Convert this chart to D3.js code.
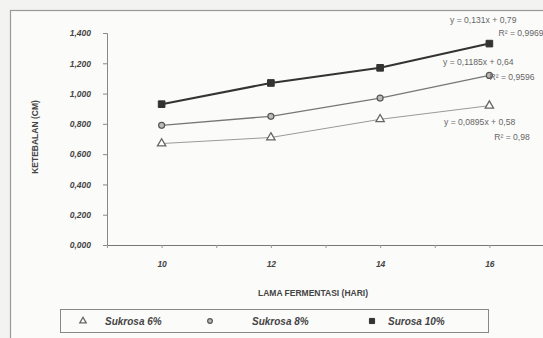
<!DOCTYPE html>
<html>
<head>
<meta charset="utf-8">
<script src="https://cdn.jsdelivr.net/npm/d3@7/dist/d3.min.js"></script>
<style>
  html, body { margin: 0; padding: 0; background: #f3f3f1; }
  svg { display: block; }
  text { font-family: Arial, "Liberation Sans", sans-serif; }
</style>
</head>
<body>
<svg id="chart" width="543" height="338"></svg>
<script>
// Fermentation time (days)
const days = [10, 12, 14, 16];
// Thickness (cm) for each sucrose level
const sukrosa6 = [0.67, 0.71, 0.83, 0.92];
const sukrosa8 = [0.79, 0.85, 0.97, 1.12];
const surosa10 = [0.93, 1.07, 1.17, 1.33];
const seriesNames = ["Sukrosa 6%", "Sukrosa 8%", "Surosa 10%"];
const yTicks = [0, 0.2, 0.4, 0.6, 0.8, 1.0, 1.2, 1.4];
const xLabelTicks = [10, 12, 14, 16];
const trendLabels = [
  ["y = 0,0895x + 0,58", "R² = 0,98"],
  ["y = 0,1185x + 0,64", "R² = 0,9596"],
  ["y = 0,131x + 0,79", "R² = 0,9969"]
];

const svg = d3.select("#chart");
const yFmt = v => (v >= 1 ? "1," + d3.format("03d")(Math.round((v - 1) * 1000)) : "0," + d3.format("03d")(Math.round(v * 1000)));

const x = d3.scaleLinear().domain([9, 17]).range([107, 544]);
const y = d3.scaleLinear().domain([0, 1.4]).range([245, 33]);

// outer frame
svg.append("rect").attr("x", 10.5).attr("y", 10.5).attr("width", 545).attr("height", 340)
  .attr("fill", "#fbfbfa").attr("stroke", "#9a9a9a").attr("stroke-width", 1.2);

// y axis
const yAxis = svg.append("g").attr("transform", "translate(107,0)")
  .call(d3.axisLeft(y).tickValues(yTicks).tickSize(4).tickFormat(yFmt));
yAxis.select(".domain").attr("stroke", "#888");
yAxis.selectAll(".tick line").attr("stroke", "#888");
yAxis.selectAll(".tick text").attr("x", -16)
  .attr("font-size", 8.5).attr("font-weight", "bold").attr("font-style", "italic").attr("fill", "#444");

// x axis
const xAxis = svg.append("g").attr("transform", "translate(0,245)")
  .call(d3.axisBottom(x).tickValues(d3.range(9, 18)).tickSize(3)
    .tickFormat(d => xLabelTicks.includes(d) ? d : ""));
xAxis.select(".domain").attr("stroke", "#777");
xAxis.selectAll(".tick line").attr("stroke", "#999");
xAxis.selectAll(".tick text").attr("y", 16)
  .attr("font-size", 8.5).attr("font-weight", "bold").attr("font-style", "italic").attr("fill", "#444");

// axis titles
svg.append("text").attr("x", 313).attr("y", 296).attr("text-anchor", "middle")
  .attr("font-size", 8.5).attr("font-weight", "bold").attr("fill", "#444")
  .text("LAMA FERMENTASI (HARI)");
svg.append("text").attr("transform", "translate(38,137) rotate(-90)").attr("text-anchor", "middle")
  .attr("font-size", 8.5).attr("font-weight", "bold").attr("fill", "#444")
  .text("KETEBALAN (CM)");

const allSeries = [sukrosa6, sukrosa8, surosa10];
const lineStyles = [
  { stroke: "#9a9a9a", width: 1 },
  { stroke: "#777", width: 1.3 },
  { stroke: "#333", width: 2 }
];
const line = d3.line().x((d, i) => x(days[i])).y(d => y(d));

allSeries.forEach((s, k) => {
  svg.append("path").datum(s).attr("d", line).attr("fill", "none")
    .attr("stroke", lineStyles[k].stroke).attr("stroke-width", lineStyles[k].width);
});

function marker(g, k, cx, cy, sc) {
  if (k === 0) {
    g.append("path").attr("d", d3.symbol().type(d3.symbolTriangle).size(30 * sc)())
      .attr("transform", `translate(${cx},${cy})`)
      .attr("fill", "#fff").attr("stroke", "#666").attr("stroke-width", 1.3);
  } else if (k === 1) {
    g.append("circle").attr("cx", cx).attr("cy", cy).attr("r", 3 * Math.sqrt(sc))
      .attr("fill", "#bbb").attr("stroke", "#555").attr("stroke-width", 1.2);
  } else {
    g.append("path").attr("d", d3.symbol().type(d3.symbolSquare).size(44 * sc)())
      .attr("transform", `translate(${cx},${cy})`)
      .attr("fill", "#333").attr("stroke", "#333");
  }
}

allSeries.forEach((s, k) => {
  const g = svg.append("g");
  s.forEach((v, i) => marker(g, k, x(days[i]), y(v), 1));
});

// trendline equations (equation line, then R² line)
const eqLayout = [
  { x: 444, y: 125, rx: 512, ry: 140 },
  { x: 443, y: 65, rx: 512, ry: 80 },
  { x: 450, y: 23, rx: 521, ry: 36 }
];
trendLabels.forEach((lbl, k) => {
  const p = eqLayout[k];
  const g = svg.append("g").attr("fill", "#666").attr("font-size", 8.6);
  g.append("text").attr("x", p.x).attr("y", p.y).text(lbl[0]);
  g.append("text").attr("x", p.rx).attr("y", p.ry).attr("text-anchor", "middle").text(lbl[1]);
});

// legend
const leg = svg.append("g");
leg.append("rect").attr("x", 60.5).attr("y", 309.5).attr("width", 428).attr("height", 23)
  .attr("fill", "#fbfbfa").attr("stroke", "#888");
const legX = [83, 210, 372];
const legTextX = [105, 252, 388];
seriesNames.forEach((n, k) => {
  marker(leg, k, legX[k], 321, 0.6);
  leg.append("text").attr("x", legTextX[k]).attr("y", 325)
    .attr("font-size", 10).attr("font-weight", "bold").attr("font-style", "italic").attr("fill", "#444").text(n);
});
</script>
</body>
</html>
